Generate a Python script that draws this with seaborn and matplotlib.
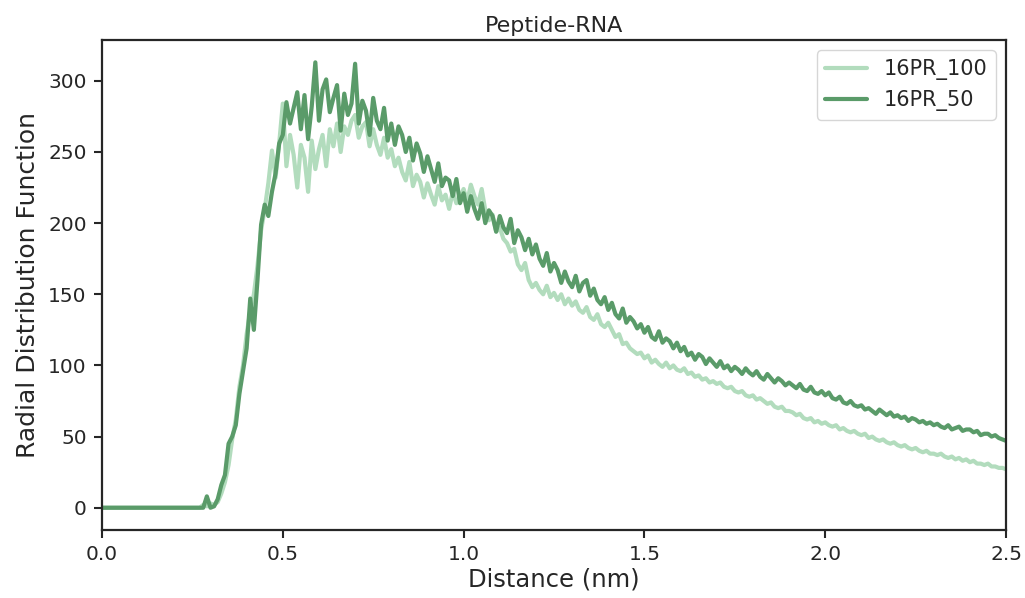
import numpy as np
import pandas as pd
import matplotlib
matplotlib.use("Agg")
import matplotlib.pyplot as plt
import seaborn as sns

# rdf bins (nm)
distance = np.round(np.arange(0, 2.501, 0.01), 2)

# 16PR_100 (light)
rdf_100 = [
    0, 0, 0, 0, 0, 0, 0, 0, 0, 0,
    0, 0, 0, 0, 0, 0, 0, 0, 0, 0,
    0, 0, 0, 0, 0, 0, 0, 0, 2, 1,
    3, 2, 4, 10, 18, 30, 48, 62, 85, 100,
    122, 138, 150, 170, 195, 210, 228, 251, 232, 256,
    284, 240, 262, 248, 225, 255, 246, 222, 258, 238,
    252, 262, 240, 266, 254, 270, 250, 268, 262, 272,
    276, 260, 268, 271, 254, 266, 255, 248, 260, 246,
    252, 240, 246, 236, 230, 243, 226, 234, 229, 218,
    228, 220, 213, 226, 216, 220, 210, 222, 214, 218,
    224, 215, 227, 219, 213, 224, 209, 202, 206, 194,
    197, 189, 186, 180, 182, 171, 167, 172, 160, 155,
    158, 153, 150, 156, 148, 151, 146, 150, 143, 147,
    142, 145, 139, 137, 141, 134, 132, 136, 129, 127,
    130, 125, 120, 122, 115, 116, 112, 110, 108, 109,
    105, 107, 102, 104, 101, 99, 102, 98, 100, 97,
    96, 98, 94, 95, 92, 93, 90, 91, 88, 89,
    87, 88, 85, 84, 85, 82, 81, 82, 79, 78,
    79, 76, 77, 75, 73, 74, 71, 70, 71, 68,
    68, 67, 65, 66, 63, 62, 63, 60, 61, 59,
    60, 58, 57, 58, 55, 56, 54, 53, 54, 52,
    51, 52, 49, 50, 48, 47, 48, 46, 45, 46,
    44, 43, 44, 42, 41, 42, 40, 39, 40, 38,
    38, 37, 38, 36, 35, 36, 34, 35, 33, 34,
    32, 33, 31, 31, 30, 31, 29, 29, 28, 28,
    27,
]

# 16PR_50 (dark)
rdf_50 = [
    0, 0, 0, 0, 0, 0, 0, 0, 0, 0,
    0, 0, 0, 0, 0, 0, 0, 0, 0, 0,
    0, 0, 0, 0, 0, 0, 0, 0, 0, 8,
    0, 1, 6, 16, 23, 45, 50, 58, 80, 96,
    112, 147, 125, 160, 199, 213, 205, 222, 235, 256,
    262, 285, 270, 281, 292, 266, 290, 259, 282, 313,
    272, 294, 301, 278, 288, 297, 265, 291, 276, 284,
    312, 270, 286, 279, 262, 288, 272, 266, 281, 258,
    270, 255, 268, 262, 250, 260, 244, 256, 249, 236,
    247, 238, 229, 242, 226, 232, 230, 219, 231, 214,
    221, 208, 219, 210, 203, 214, 200, 209, 205, 194,
    205, 197, 193, 203, 186, 195, 190, 181, 189, 178,
    185, 175, 170, 179, 166, 172, 167, 158, 166, 159,
    155, 163, 152, 158, 160, 149, 154, 146, 143, 148,
    139, 144, 136, 133, 140, 130, 134, 131, 126, 129,
    123, 127, 120, 118, 124, 116, 119, 117, 112, 116,
    110, 113, 107, 109, 104, 108, 106, 101, 105, 102,
    99, 103, 98, 100, 96, 99, 97, 94, 98, 95,
    93, 96, 92, 90, 94, 91, 88, 91, 89, 86,
    88, 86, 84, 87, 83, 82, 85, 81, 80, 82,
    79, 81, 77, 76, 78, 74, 73, 75, 72, 71,
    72, 69, 70, 68, 66, 69, 67, 65, 67, 64,
    65, 63, 64, 61, 63, 62, 60, 61, 59, 60,
    58, 59, 57, 56, 58, 55, 56, 57, 54, 55,
    55, 53, 54, 51, 52, 52, 50, 51, 49, 48,
    47,
]

sns.set_theme(style="ticks", font_scale=1.2)

fig = plt.figure(figsize=(10.25, 5.98), dpi=100)
ax = fig.add_axes([0.0995, 0.1137, 0.882, 0.8193])

sns.lineplot(x=distance, y=rdf_100, ax=ax, color="#b2dcbd", linewidth=3, label="16PR_100")
sns.lineplot(x=distance, y=rdf_50, ax=ax, color="#5a9b69", linewidth=3, label="16PR_50")

ax.set_xlim(0, 2.5)
ax.set_xlabel("Distance (nm)", fontsize=17.5, labelpad=2)
ax.set_ylabel("Radial Distribution Function", fontsize=18, labelpad=6)
ax.set_title("Peptide-RNA", fontsize=16, pad=6)
ax.tick_params(labelsize=14.5, length=6, width=1.5, pad=5)
for s in ax.spines.values():
    s.set_linewidth(1.6)
ax.legend(loc="upper right", fontsize=15)

fig.savefig("out.png", dpi=100)
